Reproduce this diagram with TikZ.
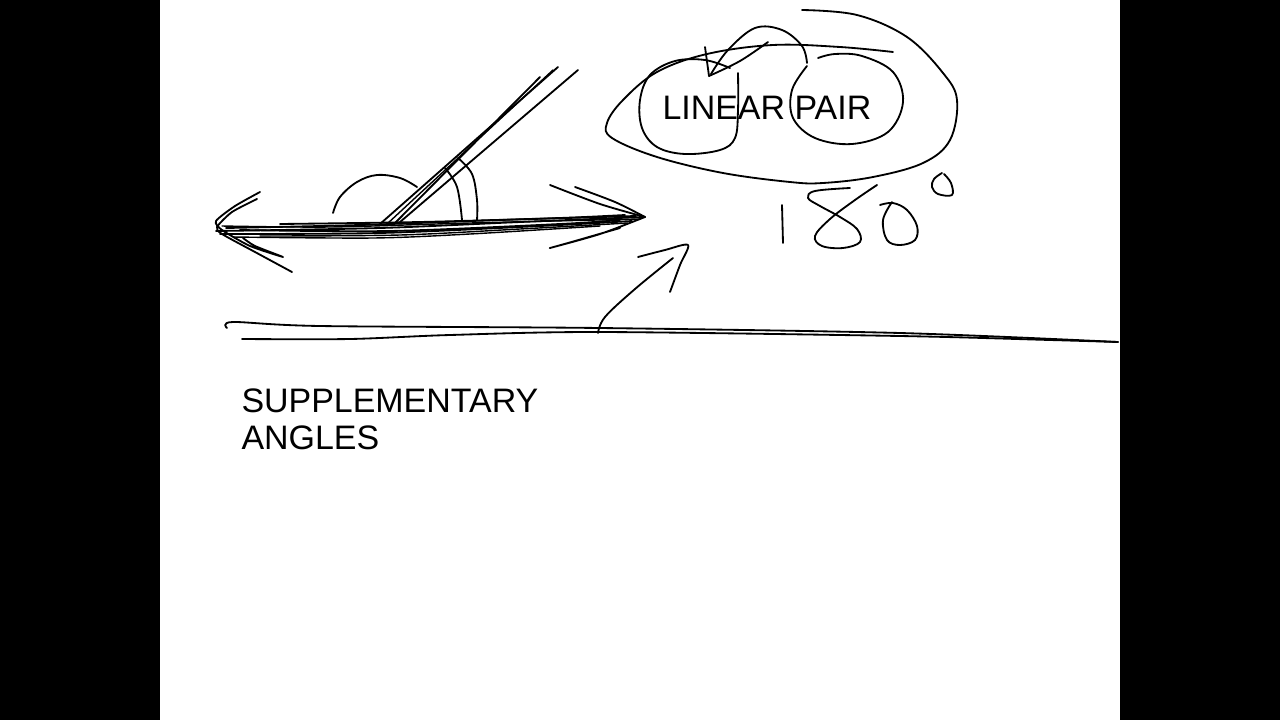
\documentclass[tikz,border=0pt]{standalone}
\usepackage{fontspec}
\setmainfont{Liberation Sans}
\begin{document}
\begin{tikzpicture}[x=0.05cm,y=-0.05cm,
  sk/.style={draw=black,line width=2.6pt,line cap=round,line join=round},
  skt/.style={draw=black,line width=2.0pt,line cap=round,line join=round},
  lbl/.style={inner sep=0pt,outer sep=0pt,font=\fontsize{48.3}{52.6}\selectfont}]
\fill[black] (0,0) rectangle (1280,720);
\fill[white] (160,0) rectangle (1120,720);
\useasboundingbox (0,0) rectangle (1280,720);

% texts
\node[lbl,anchor=base west] (lp) at (662.5,119) {LINEAR PAIR};
\node[lbl,anchor=north west,align=left] (sa) at (241.5,389) {SUPPLEMENTARY\\ANGLES};

% main line bundle
\draw[sk] plot[smooth,tension=0.5] coordinates {(216,231) (380,228) (520,222) (643,217)};
\draw[sk] plot[smooth,tension=0.5] coordinates {(220,234) (380,233) (540,226) (632,221)};
\draw[sk] plot[smooth,tension=0.5] coordinates {(226,228) (360,225) (500,220) (636,216)};
\draw[sk] plot[smooth,tension=0.5] coordinates {(280,224) (420,222) (560,218) (625,215)};
\draw[skt] plot[smooth,tension=0.5] coordinates {(233,237) (373,238) (470,234) (600,226)};
\draw[sk] plot[smooth,tension=0.5] coordinates {(240,230) (390,231) (560,224) (620,220)};
\draw[skt] plot[smooth,tension=0.5] coordinates {(222,226) (330,227) (470,223) (640,219)};
\draw[skt] plot[smooth,tension=0.5] coordinates {(260,236) (400,235) (520,229) (628,223)};

% left arrowhead
\draw[sk] plot[smooth,tension=0.4] coordinates {(260,192) (235,206) (216,221) (222,230) (250,246) (283,257) (255,246) (243,238)};
\draw[sk] plot[smooth,tension=0.4] coordinates {(257,199) (232,212) (217,227) (222,234) (255,252) (292,272)};

% right arrowhead
\draw[sk] plot[smooth,tension=0.5] coordinates {(550,185) (600,204) (645,217)};
\draw[sk] plot[smooth,tension=0.5] coordinates {(575,187) (615,202) (645,217)};
\draw[sk] plot[smooth,tension=0.5] coordinates {(645,217) (600,234) (550,248) (575,241) (620,228)};

% ray
\draw[sk] (380,224) -- (558,67);
\draw[skt] (387,224) -- (553,70);
\draw[sk] (395,223) -- (540,77);
\draw[sk] (400,222) -- (578,70);

% angle arcs
\draw[sk] plot[smooth,tension=0.6] coordinates {(333,213) (340,197) (357,182) (377,175) (400,178) (417,187)};
\draw[sk] plot[smooth,tension=0.6] coordinates {(445,168) (457,187) (462,220)};
\draw[sk] plot[smooth,tension=0.6] coordinates {(458,158) (472,174) (477,200) (477,220)};

% outer ellipse
\draw[sk] plot[smooth,tension=0.6] coordinates {(802,10) (857,15) (907,37) (943,73) (957,100) (950,140) (923,163) (873,177) (823,183) (790,182) (723,173) (657,157) (612,138) (607,123) (623,100) (657,72) (707,54) (773,45) (840,47) (893,52)};

% left circle (LINE)
\draw[sk] plot[smooth,tension=0.6] coordinates {(730,68) (705,60) (675,61) (650,75) (640,100) (642,128) (657,147) (685,154) (720,150) (735,138) (738,110) (738,73)};

% scribble
\draw[sk] (705,47) -- (709,76);
\draw[sk] plot[smooth,tension=0.6] coordinates {(709,76) (740,61) (768,42)};
\draw[sk] plot[smooth,tension=0.6] coordinates {(711,74) (728,50) (755,28) (782,30) (802,46) (807,63)};

% right circle (PAIR)
\draw[sk] plot[smooth,tension=0.6] coordinates {(807,66) (792,90) (793,118) (815,138) (852,144) (888,132) (903,102) (893,72) (862,56) (835,54) (818,58)};

% 180 degrees
\draw[sk] (782,205) -- (783,243);
\draw[sk] plot[smooth,tension=0.6] coordinates {(850,188) (815,191) (808,198) (820,206) (840,217) (857,229) (860,242) (843,248) (822,246) (815,236) (830,219) (855,200) (877,185)};
\draw[sk] plot[smooth,tension=0.6] coordinates {(880,205) (893,203) (907,210) (917,226) (915,240) (900,245) (887,240) (883,220) (892,202)};
\draw[sk] plot[smooth,tension=0.6] coordinates {(942,173) (934,179) (932,187) (938,194) (952,195) (951,183) (944,174)};

% bottom lines
\draw[sk] plot[smooth,tension=0.5] coordinates {(227,328) (233,322) (320,326) (600,328) (900,333) (1118,342)};
\draw[sk] plot[smooth,tension=0.5] coordinates {(242,339) (350,339) (450,335) (600,332) (900,336) (1050,340) (1118,342)};

% arrow
\draw[sk] plot[smooth,tension=0.6] coordinates {(598,333) (605,317) (635,289) (673,258)};
\draw[sk] plot[smooth,tension=0.5] coordinates {(638,257) (665,250) (688,245) (680,265) (670,292)};
\end{tikzpicture}
\end{document}
